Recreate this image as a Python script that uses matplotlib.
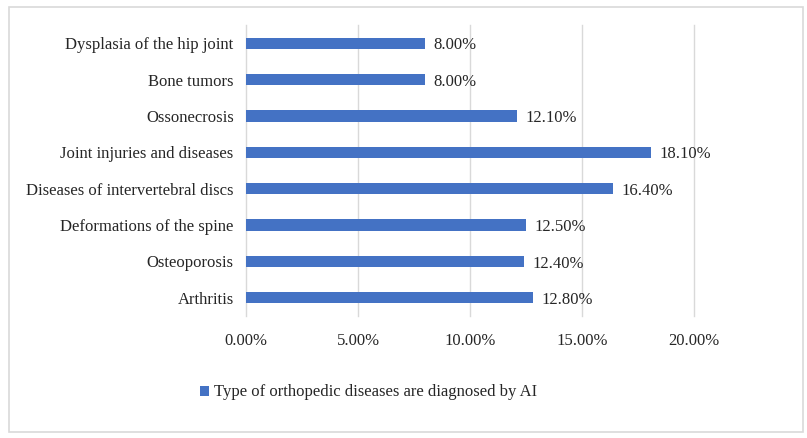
"""
Horizontal bar chart: orthopedic diseases diagnosed by AI.
"""
import matplotlib
matplotlib.use('Agg')
import matplotlib.pyplot as plt
from matplotlib.patches import Rectangle
from matplotlib.ticker import FuncFormatter

categories = [
    'Arthritis',
    'Osteoporosis',
    'Deformations of the spine',
    'Diseases of intervertebral discs',
    'Joint injuries and diseases',
    'Ossonecrosis',
    'Bone tumors',
    'Dysplasia of the hip joint',
]
values = [12.8, 12.4, 12.5, 16.4, 18.1, 12.1, 8.0, 8.0]
x_ticks = [0, 5, 10, 15, 20]
series_name = 'Type of orthopedic diseases are diagnosed by AI'

bar_color = '#4472C4'
grid_color = '#D9D9D9'
text_color = '#262626'

plt.rcParams['font.family'] = ['Liberation Serif', 'DejaVu Serif']
plt.rcParams['font.size'] = 12

fig = plt.figure(figsize=(8.07, 4.38), dpi=100)
ax = fig.add_axes([0.305, 0.2785, 0.555, 0.6645])

y = range(len(categories))
bars = ax.barh(y, values, height=0.31, color=bar_color, label=series_name, zorder=3)

# Value labels just right of each bar
for rect, v in zip(bars, values):
    ax.annotate('%.2f%%' % v,
                xy=(rect.get_width(), rect.get_y() + rect.get_height() / 2),
                xytext=(6, -1.5), textcoords='offset points',
                ha='left', va='center', color=text_color)

ax.set_xlim(0, 20)
ax.set_ylim(-0.5, len(categories) - 0.5)
ax.set_xticks(x_ticks)
ax.xaxis.set_major_formatter(FuncFormatter(lambda v, _: '%.2f%%' % v))
ax.set_yticks(list(y))
ax.set_yticklabels(categories)
ax.tick_params(axis='both', length=0, colors=text_color)
ax.tick_params(axis='y', pad=9)
ax.tick_params(axis='x', pad=12)

ax.grid(axis='x', color=grid_color, linewidth=1, zorder=0)
for gl in ax.get_xgridlines():
    gl.set_clip_on(False)
for side in ['top', 'right', 'bottom', 'left']:
    ax.spines[side].set_visible(False)

fig.legend(loc='center', bbox_to_anchor=(0.457, 0.104), frameon=False,
           handlelength=0.55, handleheight=0.55, handletextpad=0.3,
           labelcolor=text_color)

# Light border around the whole chart
fig.patches.append(Rectangle((0.011, 0.014), 0.984, 0.97, transform=fig.transFigure,
                             fill=False, edgecolor='#D9D9D9', linewidth=1.2))

fig.savefig('out.png', dpi=100)
